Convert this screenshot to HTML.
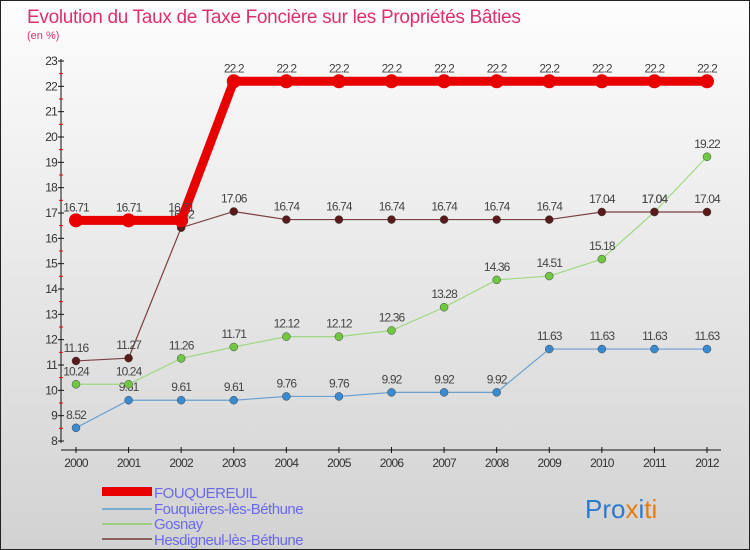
<!DOCTYPE html>
<html><head><meta charset="utf-8"><style>
body{margin:0}
#c{width:750px;height:550px;position:relative;overflow:hidden;background:linear-gradient(#fdfdfd,#d2d2d2);font-family:"Liberation Sans",sans-serif;box-sizing:border-box;border:1px solid #222}
</style></head><body>
<div id="c">
<svg id="s" width="750" height="550" style="position:absolute;left:0;top:0">
<text x="26" y="22" font-size="19" fill="#e0306a" letter-spacing="-0.3">Evolution du Taux de Taxe Foncière sur les Propriétés Bâties</text>
<text x="26" y="38" font-size="11" fill="#e0306a">(en %)</text>
<g id="axes"></g><g id="series"></g>
<g>
<rect x="101" y="486" width="50" height="9" fill="#e80000"/>
<text x="153" y="497" font-size="15" fill="#6a6ae8" letter-spacing="-0.5">FOUQUEREUIL</text>
<rect x="101" y="507" width="50" height="2" fill="#7aaed0"/>
<text x="153" y="513" font-size="15" fill="#6a6ae8" letter-spacing="-0.5">Fouquières-lès-Béthune</text>
<rect x="101" y="522" width="50" height="2" fill="#9ed080"/>
<text x="153" y="528" font-size="15" fill="#6a6ae8" letter-spacing="-0.5">Gosnay</text>
<rect x="101" y="537" width="50" height="2" fill="#8a6060"/>
<text x="153" y="544" font-size="15" fill="#6a6ae8" letter-spacing="-0.5">Hesdigneul-lès-Béthune</text>
</g>
<text x="584" y="517" font-size="26"><tspan fill="#2a7ad0">Pro</tspan><tspan fill="#e87a10">x</tspan><tspan fill="#2a7ad0">i</tspan><tspan fill="#e87a10">ti</tspan></text>
</svg>
</div>
<script>
const years=[2000,2001,2002,2003,2004,2005,2006,2007,2008,2009,2010,2011,2012];
const yTicks=[8,9,10,11,12,13,14,15,16,17,18,19,20,21,22,23];
const fouquereuil=[16.71,16.71,16.71,22.2,22.2,22.2,22.2,22.2,22.2,22.2,22.2,22.2,22.2];
const fouquieres=[8.52,9.61,9.61,9.61,9.76,9.76,9.92,9.92,9.92,11.63,11.63,11.63,11.63];
const gosnay=[10.24,10.24,11.26,11.71,12.12,12.12,12.36,13.28,14.36,14.51,15.18,17.04,19.22];
const hesdigneul=[11.16,11.27,16.42,17.06,16.74,16.74,16.74,16.74,16.74,16.74,17.04,17.04,17.04];
const NS="http://www.w3.org/2000/svg";
const xs=i=>75+i*(706-75)/(years.length-1);
const ys=v=>440-(v-8)*(380/15);
function mk(p,t,a){const e=document.createElementNS(NS,t);for(const k in a)e.setAttribute(k,a[k]);p.appendChild(e);return e;}
const ax=document.getElementById('axes');
let l=mk(ax,'line',{x1:60,y1:58,x2:60,y2:442,stroke:'#111','stroke-width':1});


l=mk(ax,'line',{x1:60,y1:449,x2:720,y2:449,stroke:'#111','stroke-width':1});


yTicks.forEach((v,i)=>{const y=ys(v);
mk(ax,'line',{x1:57,y1:y,x2:63,y2:y,stroke:'#111'});
if(i<yTicks.length-1)mk(ax,'line',{x1:58,y1:ys(v+0.5),x2:62,y2:ys(v+0.5),stroke:'#e00'});
const t=mk(ax,'text',{x:56,y:y+4,'font-size':12,fill:'#333','text-anchor':'end','letter-spacing':'-0.8'});t.textContent=v;

});
years.forEach((yr,i)=>{const x=xs(i);mk(ax,'line',{x1:x,y1:446,x2:x,y2:452,stroke:'#111'});
const t=mk(ax,'text',{x:x,y:466,'font-size':12,fill:'#333','text-anchor':'middle','letter-spacing':'-0.8'});t.textContent=yr;

});
const sg=document.getElementById('series');
function draw(vals,name,col,dot,w,r){
const g=mk(sg,'g',{});


const pl=mk(g,'polyline',{points:vals.map((v,i)=>xs(i)+','+ys(v)).join(' '),fill:'none',stroke:col,'stroke-width':w});


vals.forEach((v,i)=>{const c=mk(g,'circle',{cx:xs(i),cy:ys(v),r:r,fill:dot,stroke:col==='#e80000'?'none':'#444','stroke-width':0.5});


const t=mk(g,'text',{x:xs(i),y:ys(v)-9,'font-size':12,fill:'#444','text-anchor':'middle','letter-spacing':'-0.9'});t.textContent=String(v);

});}
draw(fouquieres,'fouquieres','#6aa0d0','#3a8ad0',1.2,4);
draw(gosnay,'gosnay','#9ed880','#70c840',1.2,4);
draw(hesdigneul,'hesdigneul','#7a4040','#5a1a1a',1.2,4);
draw(fouquereuil,'fouquereuil','#e80000','#e80000',9,7);
</script>
</body></html>
